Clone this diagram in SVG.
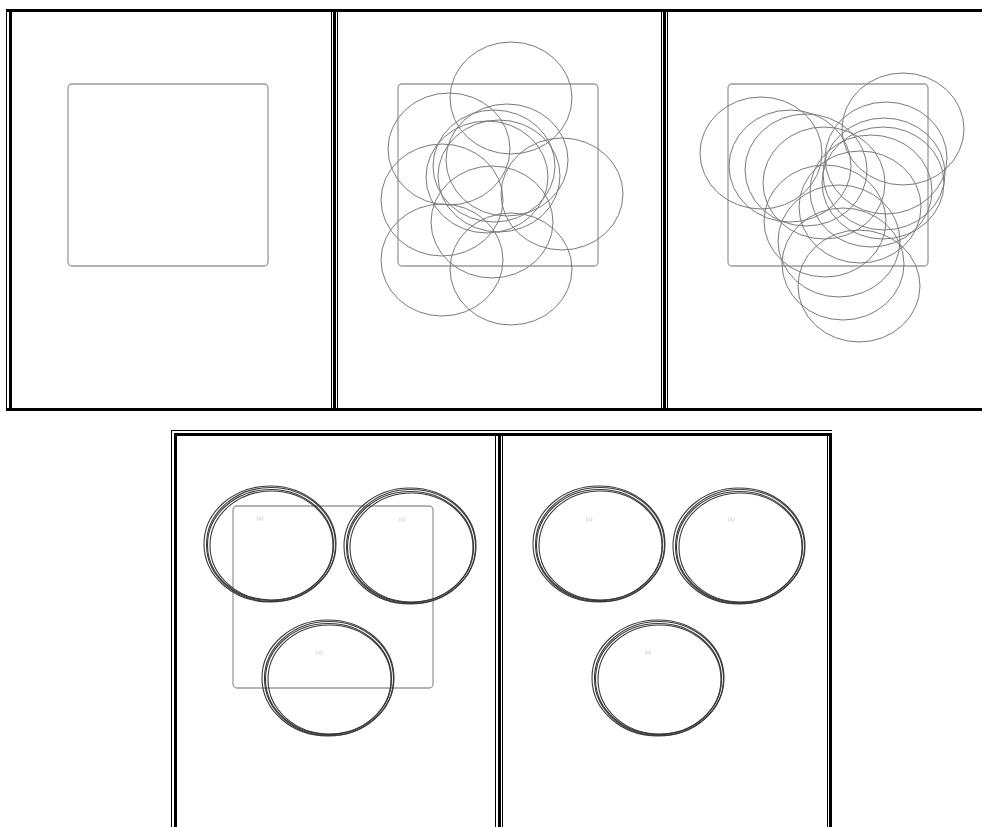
<svg xmlns="http://www.w3.org/2000/svg" xmlns:xlink="http://www.w3.org/1999/xlink" width="982" height="827" viewBox="0 0 982 827">
<style>
.frame{fill:#000}
.sq{fill:none;stroke:#9a9a9a;stroke-width:1.3}
.c{fill:none;stroke:#7a7a7a;stroke-width:1}
.r{fill:none;stroke:#3a3a3a;stroke-width:1.1}
.lbl{font-family:"Liberation Sans",Arial,sans-serif;font-size:6px;fill:#c4c4c4;text-anchor:middle}
</style>
<defs>
<rect id="sq" width="200" height="182" rx="4"/>
<ellipse id="c" rx="61" ry="56"/>
<g id="ring">
<ellipse cx="0" cy="0" rx="66" ry="58"/>
<ellipse cx="1" cy="0.5" rx="64.5" ry="57"/>
<ellipse cx="0.5" cy="1" rx="63" ry="55.5"/>
<ellipse cx="1.5" cy="1.5" rx="61.5" ry="54.5"/>
</g>
</defs>
<rect width="982" height="827" fill="#fff"/>

<g id="frames">
<rect class="frame" x="6" y="9" width="976" height="3"/>
<rect class="frame" x="6" y="408" width="976" height="3"/>
<rect class="frame" x="6" y="10" width="1" height="401"/>
<rect class="frame" x="9" y="9" width="3" height="402"/>
<rect class="frame" x="331" y="12" width="1" height="396"/>
<rect class="frame" x="333" y="9" width="3" height="402"/>
<rect class="frame" x="337" y="12" width="1" height="396"/>
<rect class="frame" x="661" y="12" width="1" height="396"/>
<rect class="frame" x="663" y="9" width="3" height="402"/>
<rect class="frame" x="667" y="12" width="1" height="396"/>

<rect class="frame" x="171" y="430" width="661" height="1"/>
<rect class="frame" x="174" y="433" width="658" height="3"/>
<rect class="frame" x="171" y="430" width="1" height="397"/>
<rect class="frame" x="174" y="433" width="3" height="394"/>
<rect class="frame" x="495" y="436" width="1" height="391"/>
<rect class="frame" x="498" y="433" width="3" height="394"/>
<rect class="frame" x="502" y="436" width="1" height="391"/>
<rect class="frame" x="827" y="436" width="1" height="391"/>
<rect class="frame" x="829" y="433" width="3" height="394"/>
</g>

<g id="panel1">
<use xlink:href="#sq" class="sq" x="68" y="84"/>
</g>

<g id="panel2">
<use xlink:href="#sq" class="sq" x="398" y="84"/>
<g class="c">
<use xlink:href="#c" x="511" y="98"/>
<use xlink:href="#c" x="449" y="149"/>
<use xlink:href="#c" x="442" y="200"/>
<use xlink:href="#c" x="442" y="260"/>
<use xlink:href="#c" x="511" y="269"/>
<use xlink:href="#c" x="562" y="194"/>
<use xlink:href="#c" x="492" y="222"/>
<use xlink:href="#c" x="487" y="177"/>
<use xlink:href="#c" x="507" y="160"/>
<use xlink:href="#c" x="494" y="166"/>
<use xlink:href="#c" x="499" y="176"/>
</g>
</g>

<g id="panel3">
<use xlink:href="#sq" class="sq" x="728" y="84"/>
<g class="c">
<use xlink:href="#c" x="761" y="153"/>
<use xlink:href="#c" x="790" y="166"/>
<use xlink:href="#c" x="806" y="170"/>
<use xlink:href="#c" x="824" y="183"/>
<use xlink:href="#c" x="903" y="129"/>
<use xlink:href="#c" x="886" y="158"/>
<use xlink:href="#c" x="884" y="174"/>
<use xlink:href="#c" x="871" y="191"/>
<use xlink:href="#c" x="883" y="183"/>
<use xlink:href="#c" x="825" y="221"/>
<use xlink:href="#c" x="839" y="241"/>
<use xlink:href="#c" x="843" y="264"/>
<use xlink:href="#c" x="859" y="286"/>
<use xlink:href="#c" x="860" y="207"/>
</g>
</g>

<g id="panel4">
<use xlink:href="#sq" class="sq" x="233" y="506"/>
<g class="r">
<use xlink:href="#ring" x="270" y="544"/>
<use xlink:href="#ring" x="410" y="546"/>
<use xlink:href="#ring" x="328" y="678"/>
</g>
<text class="lbl" x="260" y="520">(x)</text>
<text class="lbl" x="402" y="521">(x)</text>
<text class="lbl" x="319" y="654">(x)</text>
</g>

<g id="panel5">
<g class="r">
<use xlink:href="#ring" x="599" y="544"/>
<use xlink:href="#ring" x="739" y="546"/>
<use xlink:href="#ring" x="658" y="678"/>
</g>
<text class="lbl" x="589" y="521">(x)</text>
<text class="lbl" x="731" y="521">(x)</text>
<text class="lbl" x="648" y="654">(x)</text>
</g>
</svg>
